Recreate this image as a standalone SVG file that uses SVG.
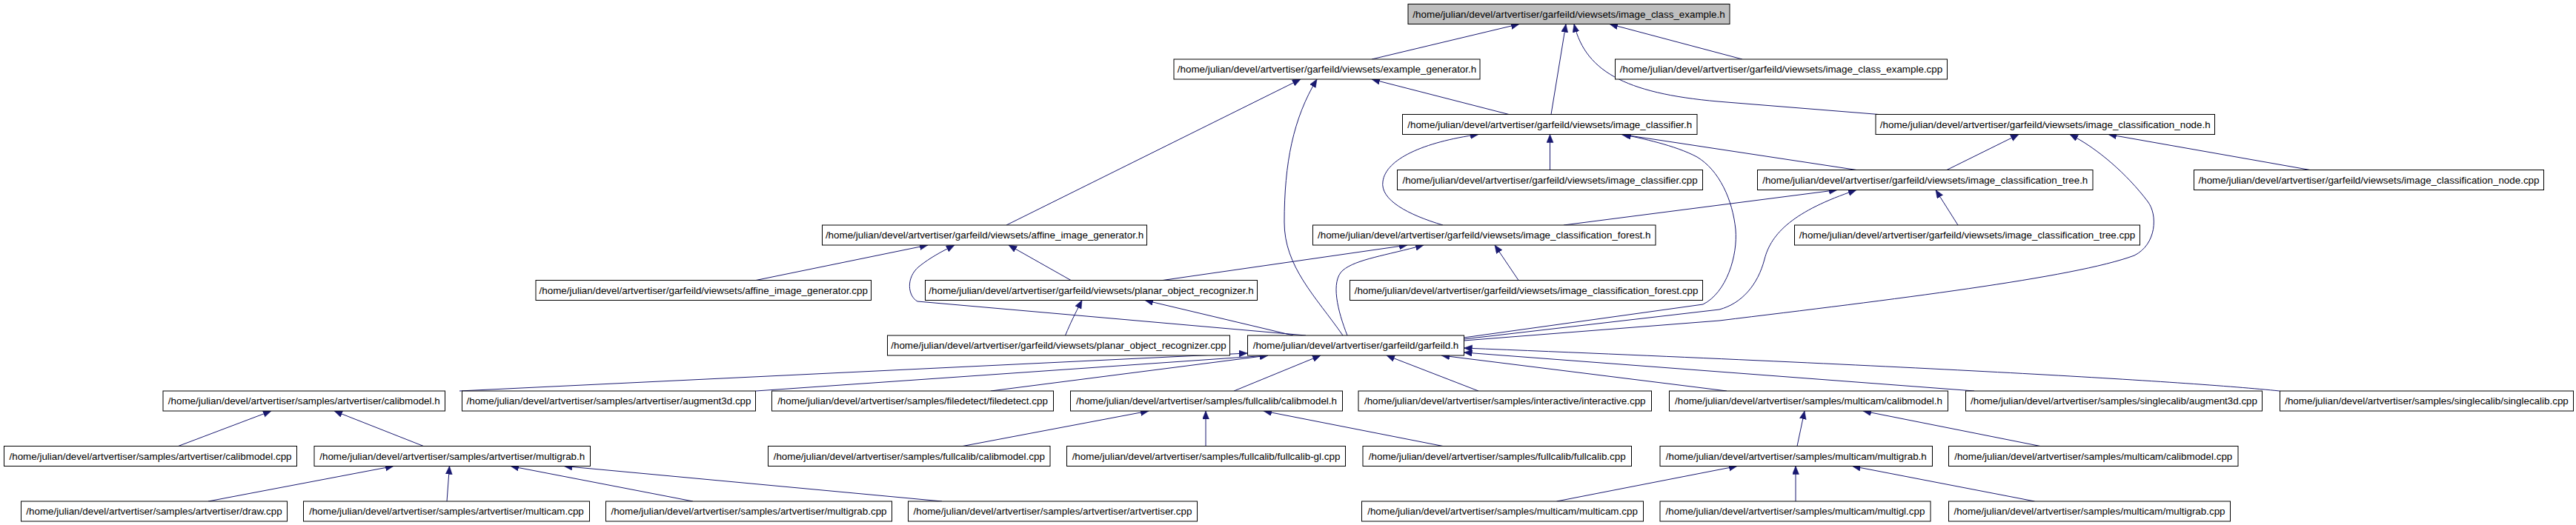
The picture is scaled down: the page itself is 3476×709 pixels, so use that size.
<svg xmlns="http://www.w3.org/2000/svg" width="3476" height="709" viewBox="0 0 3476 709">
<style>
rect.n{fill:#ffffff;stroke:#000000;stroke-width:1}
rect.root{fill:#bfbfbf;stroke:#000000;stroke-width:1}
text{font-family:"Liberation Sans",Arial,sans-serif;font-size:13.4px;fill:#000000;text-anchor:middle}
#edges path{fill:none;stroke:#191970;stroke-width:1;marker-end:url(#ah)}
</style>
<defs>
<marker id="ah" markerUnits="userSpaceOnUse" markerWidth="12" markerHeight="10" refX="11" refY="4.5" orient="auto"><path d="M0,0 L11,4.5 L0,9 z" fill="#191970" stroke="#191970" stroke-width="0.5"/></marker>
</defs>
<rect width="3476" height="709" fill="#ffffff"/>
<g id="edges">
<path d="M1851,80 L2050,32.5"/>
<path d="M2093,154.5 L2113,32.5"/>
<path d="M2535,154.5 L2330,138 C2200,128 2140,100 2124,32.5"/>
<path d="M2351,80 L2172,32.5"/>
<path d="M2036,154.5 L1851,107"/>
<path d="M1358,304 L1755,107"/>
<path d="M1812,453 C1775,400 1733,360 1733,300 C1733,220 1745,160 1777,107"/>
<path d="M2091.5,229.5 L2091.5,181.5"/>
<path d="M2505,229.5 L2188,181.5"/>
<path d="M1947,304 C1900,290 1862,270 1866,245 C1870,215 1920,192 1995,181.5"/>
<path d="M1975,456 L2298,411 C2330,395 2345,345 2342,310 C2338,270 2320,230 2290,212 C2260,196 2215,187 2190,181.5"/>
<path d="M1975,458 L2320,418 C2350,410 2372,385 2381,350 C2390,315 2420,285 2505,256.5"/>
<path d="M1975,460 L2320,433 C2550,405 2800,375 2880,345 C2910,330 2912,290 2898,272 C2870,235 2830,200 2793,181.5"/>
<path d="M2627,229.5 L2724,181.5"/>
<path d="M3117,229.5 L2845,181.5"/>
<path d="M2110,304 L2479,256.5"/>
<path d="M2642,304 L2612,256.5"/>
<path d="M1818,453 C1805,420 1795,380 1812,365 C1830,350 1870,345 1921,331"/>
<path d="M1569,378.5 L1899,331"/>
<path d="M2049,378.5 L2017,331"/>
<path d="M1020,378.5 L1252,331"/>
<path d="M1762,453 L1238,407 C1225,400 1222,375 1240,360 C1255,348 1270,340 1288,331"/>
<path d="M1445,378.5 L1361,331"/>
<path d="M1437.5,453 C1445,435 1450,425 1460,405.5"/>
<path d="M1745,453 L1545,405.5"/>
<path d="M620,528 L1683,477"/>
<path d="M1020,528 L1711,480"/>
<path d="M1337,528 L1711,480"/>
<path d="M1665,528 L1782,480"/>
<path d="M1995,528 L1871,480"/>
<path d="M2330,528 L1945,480"/>
<path d="M2664,528 L1975.5,476"/>
<path d="M3076,528 C2950,515 2600,495 1975.5,470"/>
<path d="M240.5,602.5 L366,555"/>
<path d="M571.5,602.5 L451,555"/>
<path d="M1299,602.5 L1550,555"/>
<path d="M1627,602.5 L1627,555"/>
<path d="M1947,602.5 L1705,555"/>
<path d="M2425,602.5 L2435,555"/>
<path d="M2753,602.5 L2514,555"/>
<path d="M281,677 L531,629.5"/>
<path d="M603,677 L606.5,629.5"/>
<path d="M935,677 L689,629.5"/>
<path d="M1271,677 L761,629.5"/>
<path d="M2100.5,677 L2344,629.5"/>
<path d="M2423,677 L2423,629.5"/>
<path d="M2745.5,677 L2499.5,629.5"/>
</g>
<g id="A"><rect class="root" x="1900" y="5.5" width="434" height="27"/><text x="2117" y="23.5">/home/julian/devel/artvertiser/garfeild/viewsets/image_class_example.h</text></g>
<g id="B"><rect class="n" x="1584" y="80" width="413" height="27"/><text x="1790.5" y="98">/home/julian/devel/artvertiser/garfeild/viewsets/example_generator.h</text></g>
<g id="C"><rect class="n" x="2179.5" y="80" width="448" height="27"/><text x="2403.5" y="98">/home/julian/devel/artvertiser/garfeild/viewsets/image_class_example.cpp</text></g>
<g id="D"><rect class="n" x="1892.5" y="154.5" width="397.5" height="27"/><text x="2091.25" y="172.5">/home/julian/devel/artvertiser/garfeild/viewsets/image_classifier.h</text></g>
<g id="E"><rect class="n" x="2531" y="154.5" width="457.5" height="27"/><text x="2759.75" y="172.5">/home/julian/devel/artvertiser/garfeild/viewsets/image_classification_node.h</text></g>
<g id="F"><rect class="n" x="1885.5" y="229.5" width="412" height="27"/><text x="2091.5" y="247.5">/home/julian/devel/artvertiser/garfeild/viewsets/image_classifier.cpp</text></g>
<g id="G"><rect class="n" x="2371.5" y="229.5" width="452.5" height="27"/><text x="2597.75" y="247.5">/home/julian/devel/artvertiser/garfeild/viewsets/image_classification_tree.h</text></g>
<g id="H"><rect class="n" x="2960.5" y="229.5" width="472" height="27"/><text x="3196.5" y="247.5">/home/julian/devel/artvertiser/garfeild/viewsets/image_classification_node.cpp</text></g>
<g id="I"><rect class="n" x="1109.5" y="304" width="438" height="27"/><text x="1328.5" y="322">/home/julian/devel/artvertiser/garfeild/viewsets/affine_image_generator.h</text></g>
<g id="J"><rect class="n" x="1771.5" y="304" width="462.5" height="27"/><text x="2002.75" y="322">/home/julian/devel/artvertiser/garfeild/viewsets/image_classification_forest.h</text></g>
<g id="K"><rect class="n" x="2421.5" y="304" width="466" height="27"/><text x="2654.5" y="322">/home/julian/devel/artvertiser/garfeild/viewsets/image_classification_tree.cpp</text></g>
<g id="L"><rect class="n" x="723" y="378.5" width="452.5" height="27"/><text x="949.25" y="396.5">/home/julian/devel/artvertiser/garfeild/viewsets/affine_image_generator.cpp</text></g>
<g id="M"><rect class="n" x="1248.5" y="378.5" width="448" height="27"/><text x="1472.5" y="396.5">/home/julian/devel/artvertiser/garfeild/viewsets/planar_object_recognizer.h</text></g>
<g id="N"><rect class="n" x="1821.5" y="378.5" width="476" height="27"/><text x="2059.5" y="396.5">/home/julian/devel/artvertiser/garfeild/viewsets/image_classification_forest.cpp</text></g>
<g id="O"><rect class="n" x="1197.5" y="453" width="462" height="27"/><text x="1428.5" y="471">/home/julian/devel/artvertiser/garfeild/viewsets/planar_object_recognizer.cpp</text></g>
<g id="P"><rect class="n" x="1683.5" y="453" width="292" height="27"/><text x="1829.5" y="471">/home/julian/devel/artvertiser/garfeild/garfeild.h</text></g>
<g id="Q1"><rect class="n" x="220" y="528" width="380.5" height="27"/><text x="410.25" y="546">/home/julian/devel/artvertiser/samples/artvertiser/calibmodel.h</text></g>
<g id="Q2"><rect class="n" x="623.5" y="528" width="396" height="27"/><text x="821.5" y="546">/home/julian/devel/artvertiser/samples/artvertiser/augment3d.cpp</text></g>
<g id="Q3"><rect class="n" x="1041.5" y="528" width="380" height="27"/><text x="1231.5" y="546">/home/julian/devel/artvertiser/samples/filedetect/filedetect.cpp</text></g>
<g id="Q4"><rect class="n" x="1444.5" y="528" width="367" height="27"/><text x="1628" y="546">/home/julian/devel/artvertiser/samples/fullcalib/calibmodel.h</text></g>
<g id="Q5"><rect class="n" x="1833" y="528" width="395.5" height="27"/><text x="2030.75" y="546">/home/julian/devel/artvertiser/samples/interactive/interactive.cpp</text></g>
<g id="Q6"><rect class="n" x="2252.5" y="528" width="376" height="27"/><text x="2440.5" y="546">/home/julian/devel/artvertiser/samples/multicam/calibmodel.h</text></g>
<g id="Q7"><rect class="n" x="2652.5" y="528" width="400" height="27"/><text x="2852.5" y="546">/home/julian/devel/artvertiser/samples/singlecalib/augment3d.cpp</text></g>
<g id="Q8"><rect class="n" x="3076.5" y="528" width="396" height="27"/><text x="3274.5" y="546">/home/julian/devel/artvertiser/samples/singlecalib/singlecalib.cpp</text></g>
<g id="R1"><rect class="n" x="5.5" y="602.5" width="395" height="27"/><text x="203" y="620.5">/home/julian/devel/artvertiser/samples/artvertiser/calibmodel.cpp</text></g>
<g id="R2"><rect class="n" x="424" y="602.5" width="372.5" height="27"/><text x="610.25" y="620.5">/home/julian/devel/artvertiser/samples/artvertiser/multigrab.h</text></g>
<g id="R3"><rect class="n" x="1036.5" y="602.5" width="380.5" height="27"/><text x="1226.75" y="620.5">/home/julian/devel/artvertiser/samples/fullcalib/calibmodel.cpp</text></g>
<g id="R4"><rect class="n" x="1439.5" y="602.5" width="376" height="27"/><text x="1627.5" y="620.5">/home/julian/devel/artvertiser/samples/fullcalib/fullcalib-gl.cpp</text></g>
<g id="R5"><rect class="n" x="1839" y="602.5" width="362.5" height="27"/><text x="2020.25" y="620.5">/home/julian/devel/artvertiser/samples/fullcalib/fullcalib.cpp</text></g>
<g id="R6"><rect class="n" x="2240" y="602.5" width="367.5" height="27"/><text x="2423.75" y="620.5">/home/julian/devel/artvertiser/samples/multicam/multigrab.h</text></g>
<g id="R7"><rect class="n" x="2629.5" y="602.5" width="390.5" height="27"/><text x="2824.75" y="620.5">/home/julian/devel/artvertiser/samples/multicam/calibmodel.cpp</text></g>
<g id="S1"><rect class="n" x="28.5" y="677" width="359" height="27"/><text x="208" y="695">/home/julian/devel/artvertiser/samples/artvertiser/draw.cpp</text></g>
<g id="S2"><rect class="n" x="409.5" y="677" width="386" height="27"/><text x="602.5" y="695">/home/julian/devel/artvertiser/samples/artvertiser/multicam.cpp</text></g>
<g id="S3"><rect class="n" x="817.5" y="677" width="386" height="27"/><text x="1010.5" y="695">/home/julian/devel/artvertiser/samples/artvertiser/multigrab.cpp</text></g>
<g id="S4"><rect class="n" x="1225.5" y="677" width="390" height="27"/><text x="1420.5" y="695">/home/julian/devel/artvertiser/samples/artvertiser/artvertiser.cpp</text></g>
<g id="S5"><rect class="n" x="1837.5" y="677" width="380" height="27"/><text x="2027.5" y="695">/home/julian/devel/artvertiser/samples/multicam/multicam.cpp</text></g>
<g id="S6"><rect class="n" x="2240" y="677" width="365" height="27"/><text x="2422.5" y="695">/home/julian/devel/artvertiser/samples/multicam/multigl.cpp</text></g>
<g id="S7"><rect class="n" x="2629.5" y="677" width="380" height="27"/><text x="2819.5" y="695">/home/julian/devel/artvertiser/samples/multicam/multigrab.cpp</text></g>
</svg>
